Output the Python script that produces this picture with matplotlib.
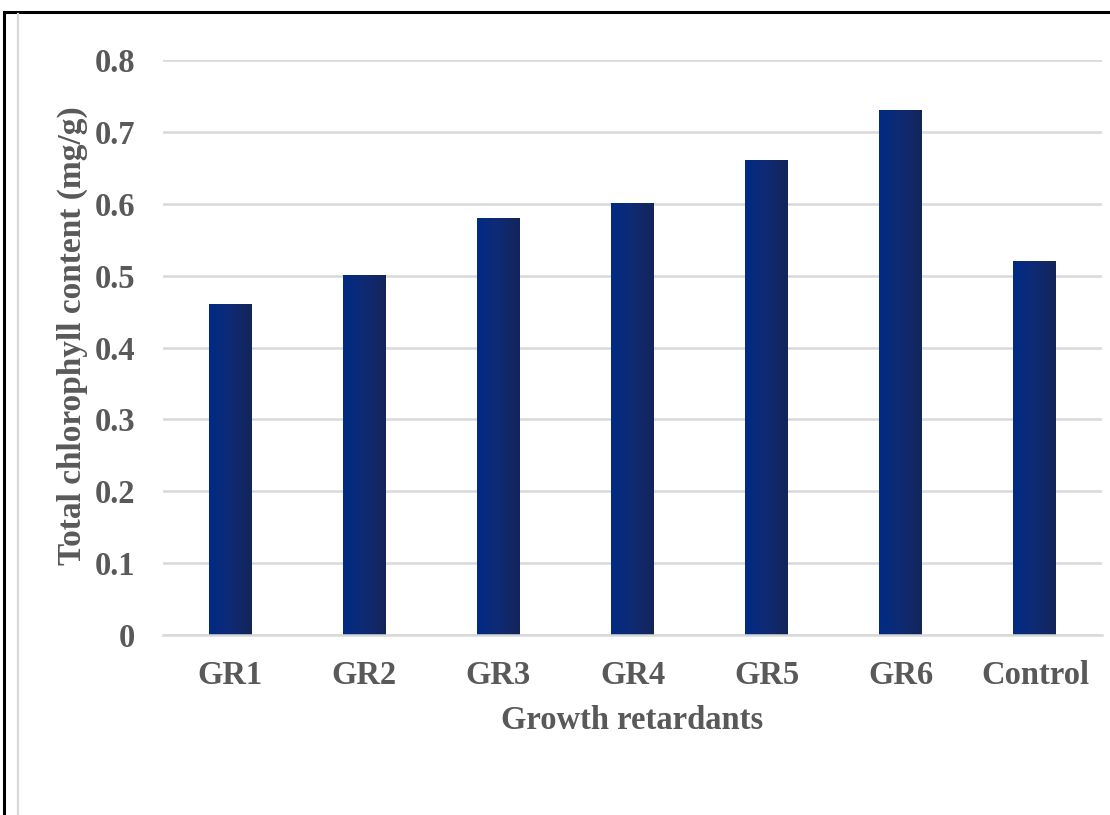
import matplotlib.pyplot as plt
import numpy as np
from matplotlib.colors import LinearSegmentedColormap
from matplotlib.lines import Line2D

categories = ["GR1", "GR2", "GR3", "GR4", "GR5", "GR6", "Control"]
chlorophyll = [0.46, 0.50, 0.58, 0.60, 0.66, 0.73, 0.52]
y_ticks = [0, 0.1, 0.2, 0.3, 0.4, 0.5, 0.6, 0.7, 0.8]
y_tick_labels = ["0", "0.1", "0.2", "0.3", "0.4", "0.5", "0.6", "0.7", "0.8"]

TEXT_GRAY = "#595959"
GRID_GRAY = "#d9d9d9"
bar_cmap = LinearSegmentedColormap.from_list("bar", ["#002b84", "#0f2a74", "#13255a"])

plt.rcParams["font.family"] = ["Liberation Serif", "DejaVu Serif"]
plt.rcParams["font.weight"] = "bold"

fig = plt.figure(figsize=(11.1, 8.15), dpi=100)
ax = fig.add_axes([163 / 1110, 1 - 635 / 815, 939 / 1110, 575 / 815])

x = np.arange(len(categories))
width = 0.32
gradient = np.linspace(0, 1, 64).reshape(1, -1)
for xi, value in zip(x, chlorophyll):
    ax.imshow(gradient, cmap=bar_cmap, aspect="auto", interpolation="bilinear",
              extent=[xi - width / 2, xi + width / 2, 0, value], zorder=3)

ax.set_xlim(-0.5, len(categories) - 0.5)
ax.set_ylim(0, 0.8)
ax.set_yticks(y_ticks, y_tick_labels)
ax.set_xticks(x, categories)
ax.yaxis.grid(True, color=GRID_GRAY, linewidth=1.8, zorder=0)
ax.set_axisbelow(True)
for side in ["top", "right", "left"]:
    ax.spines[side].set_visible(False)
ax.spines["bottom"].set_color(GRID_GRAY)
ax.spines["bottom"].set_linewidth(1.8)
ax.spines["bottom"].set_zorder(4)
ax.tick_params(axis="both", length=0, labelsize=23.5, labelcolor=TEXT_GRAY)
ax.tick_params(axis="y", pad=20)
ax.tick_params(axis="x", pad=18)

ax.set_xlabel("Growth retardants", fontsize=23.5, color=TEXT_GRAY, fontweight="bold", labelpad=10)
ax.set_ylabel("Total chlorophyll content (mg/g)", fontsize=24, color=TEXT_GRAY,
              fontweight="bold")
ax.yaxis.set_label_coords(-0.08, 0.52)

# outer frame and inner chart border
top = 1 - 12 / 815
fig.add_artist(Line2D([4 / 1110, 4 / 1110], [0, top], color="black", linewidth=2.2,
                      transform=fig.transFigure))
fig.add_artist(Line2D([4 / 1110, 1], [top, top], color="black", linewidth=2.2,
                      transform=fig.transFigure))
fig.add_artist(Line2D([17.5 / 1110, 17.5 / 1110], [0, 1 - 14 / 815], color=GRID_GRAY,
                      linewidth=1.6, transform=fig.transFigure))

fig.savefig("out.png", dpi=100)
